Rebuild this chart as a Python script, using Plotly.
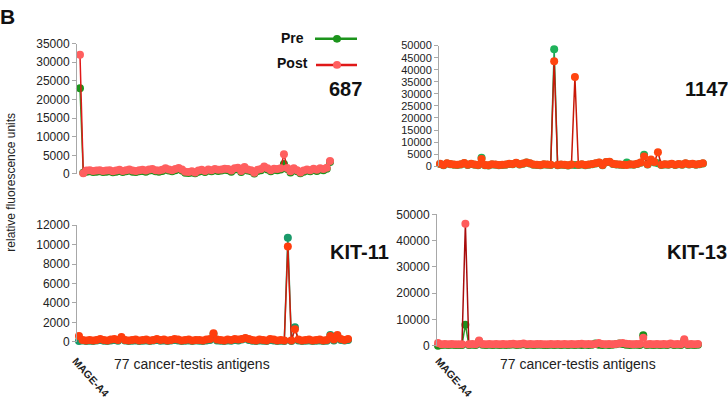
import plotly.graph_objects as go

W, H = 728, 401

antigen_index = list(range(77))

pre_687 = [23000, 300, 600, 700, 550, 600, 700, 550, 600, 700, 450, 600, 800, 550, 700, 900, 600, 550, 700, 800,
           600, 900, 1000, 700, 600, 800, 1200, 900, 700, 1000, 1300, 900, 300, 250, 400, 200, 600, 800, 500, 900,
           700, 1000, 800, 900, 1100, 1000, 600, 1200, 1400, 500, 1600, 900, 700, 100, 800, 1000, 1700, 1200, 700, 1100,
           1000, 1200, 2700, 1300, 400, 1200, 700, 200, 600, 900, 700, 1100, 800, 1200, 1000, 1400, 3200]
post_687 = [32000, 200, 900, 1000, 800, 900, 1000, 800, 900, 1000, 700, 900, 1100, 800, 1000, 1200, 900, 800, 1000, 1100,
            900, 1200, 1300, 1000, 900, 1100, 1500, 1200, 1000, 1300, 1600, 1200, 600, 500, 700, 400, 900, 1100, 800, 1200,
            1000, 1300, 1100, 1200, 1400, 1300, 900, 1500, 1700, 800, 1900, 1200, 1000, 300, 1100, 1300, 2000, 1500, 1000, 1400,
            1300, 1500, 5300, 1600, 700, 1500, 1000, 400, 900, 1200, 1000, 1400, 1100, 1500, 1300, 1700, 3500]

pre_1147 = [900, 400, 1100, 800, 600, 500, 700, 1200, 500, 900, 600, 400, 3500, 400, 300, 700, 600, 400, 500, 600,
            900, 800, 1300, 700, 1000, 1500, 1100, 600, 500, 400, 700, 600, 500, 48500, 400, 600, 500, 300, 600, 500,
            500, 700, 400, 600, 800, 1100, 1400, 400, 1700, 1800, 900, 700, 600, 500, 1500, 700, 600, 900, 1400, 4800,
            700, 2000, 1500, 1200, 500, 700, 600, 900, 500, 800, 600, 1100, 700, 900, 600, 800, 1100]
post_1147 = [1000, 500, 1200, 900, 700, 600, 800, 1300, 600, 1000, 700, 500, 3000, 500, 400, 800, 700, 500, 600, 700,
             1000, 900, 1400, 800, 1100, 1600, 1200, 700, 600, 500, 800, 700, 600, 43500, 500, 700, 600, 400, 700, 37000,
             600, 800, 500, 700, 900, 1200, 1500, 500, 1800, 1900, 1000, 800, 700, 600, 500, 800, 700, 1000, 1500, 4000,
             800, 2800, 1800, 5800, 600, 800, 700, 1000, 600, 900, 700, 1200, 800, 1000, 700, 900, 1200]

pre_kit11 = [100, 150, 100, 120, 100, 150, 200, 120, 100, 150, 200, 120, 400, 150, 100, 120, 150, 100, 120, 150,
             100, 150, 200, 120, 150, 100, 150, 200, 150, 100, 120, 150, 100, 150, 120, 100, 150, 200, 800, 150,
             120, 100, 150, 120, 200, 150, 250, 350, 200, 120, 100, 150, 120, 100, 200, 150, 100, 120, 100, 10700,
             100, 1500, 150, 100, 120, 150, 100, 120, 150, 100, 120, 700, 150, 600, 200, 150, 200]
post_kit11 = [600, 200, 150, 200, 150, 200, 300, 200, 150, 250, 300, 200, 500, 200, 150, 200, 250, 150, 200, 250,
              150, 200, 300, 200, 250, 150, 200, 300, 250, 150, 200, 250, 150, 200, 200, 150, 250, 300, 900, 250,
              200, 150, 250, 200, 300, 250, 300, 400, 300, 200, 150, 250, 200, 150, 300, 250, 150, 200, 150, 9800,
              150, 1300, 250, 150, 200, 250, 150, 200, 250, 150, 200, 600, 250, 700, 300, 200, 300]

pre_kit13 = [0, 300, 400, 300, 350, 300, 300, 300, 8000, 300, 350, 300, 1700, 400, 300, 350, 300, 400, 300, 350,
             300, 400, 500, 300, 350, 600, 300, 350, 300, 400, 350, 300, 300, 350, 300, 400, 300, 350, 300, 350,
             300, 400, 300, 350, 300, 350, 900, 400, 300, 350, 300, 400, 600, 900, 700, 400, 300, 350, 400, 300,
             4000, 300, 350, 300, 400, 300, 350, 300, 600, 300, 350, 300, 2000, 300, 350, 300, 400]
post_kit13 = [1000, 600, 700, 600, 650, 600, 600, 600, 46500, 600, 650, 600, 2000, 700, 600, 650, 600, 700, 600, 650,
              600, 700, 800, 600, 650, 900, 600, 650, 600, 700, 650, 600, 600, 650, 600, 700, 600, 650, 600, 650,
              600, 700, 800, 600, 650, 600, 650, 1000, 700, 600, 650, 600, 700, 900, 1000, 800, 700, 600, 650, 700,
              3000, 600, 650, 600, 700, 600, 650, 600, 900, 600, 650, 600, 2500, 600, 650, 600, 700]

y_ticks_687 = [0, 5000, 10000, 15000, 20000, 25000, 30000, 35000]
y_ticks_1147 = [0, 5000, 10000, 15000, 20000, 25000, 30000, 35000, 40000, 45000, 50000]
y_ticks_kit11 = [0, 2000, 4000, 6000, 8000, 10000, 12000]
y_ticks_kit13 = [0, 10000, 20000, 30000, 40000, 50000]

panel_names = ["687", "1147", "KIT-11", "KIT-13"]
x_title = "77 cancer-testis antigens"
first_antigen = "MAGE-A4"
y_title = "relative fluorescence units"


def px_x(p):
    return p / W


def py_y(p):
    return 1 - p / H


FONT = "Liberation Sans, Arial, sans-serif"

panels = [
    dict(pre=pre_687, post=post_687, xd=(77, 333), yd=(38, 173), xr=[-0.91, 76.91], yr=[0, 35000], ticks=y_ticks_687,
         tf=12, pre_m="#1c941c", pre_l="#2a9a2a", post_m="#ff5f5f", post_l="#e01818"),
    dict(pre=pre_1147, post=post_1147, xd=(439, 706), yd=(40, 165), xr=[-0.3, 76.9], yr=[0, 50000], ticks=y_ticks_1147,
         tf=11, pre_m="#1fb25a", pre_l="#1fa050", post_m="#ff4510", post_l="#c81808"),
    dict(pre=pre_kit11, post=post_kit11, xd=(77, 350), yd=(226, 347), xr=[-0.56, 76.56], yr=[0, 12000], ticks=y_ticks_kit11,
         tf=12, pre_m="#1a9a6a", pre_l="#1a9a6a", post_m="#ff3d0d", post_l="#d41a08"),
    dict(pre=pre_kit13, post=post_kit13, xd=(437, 700), yd=(215, 351), xr=[-0.3, 76.6], yr=[0, 50000], ticks=y_ticks_kit13,
         tf=12, pre_m="#1c901c", pre_l="#2a9a2a", post_m="#ff5a5a", post_l="#a80c0c"),
]

fig = go.Figure()
layout = dict(
    width=W, height=H, margin=dict(l=0, r=0, t=0, b=0),
    paper_bgcolor="white", plot_bgcolor="white", showlegend=False,
    font=dict(family=FONT, color="#222222"),
)

for i, p in enumerate(panels):
    n = "" if i == 0 else str(i + 1)
    xa, ya = "x" + n, "y" + n
    fig.add_trace(go.Scatter(
        x=antigen_index, y=p["pre"], xaxis=xa, yaxis=ya, mode="lines+markers", cliponaxis=False,
        line=dict(color=p["pre_l"], width=1.5), marker=dict(color=p["pre_m"], size=8), name="Pre"))
    fig.add_trace(go.Scatter(
        x=antigen_index, y=p["post"], xaxis=xa, yaxis=ya, mode="lines+markers", cliponaxis=False,
        line=dict(color=p["post_l"], width=1.5), marker=dict(color=p["post_m"], size=8), name="Post"))
    layout["xaxis" + n] = dict(domain=[px_x(p["xd"][0]), px_x(p["xd"][1])], range=p["xr"], anchor=ya,
                               showgrid=False, zeroline=False, showline=False, showticklabels=False, ticks="")
    layout["yaxis" + n] = dict(domain=[py_y(p["yd"][1]), py_y(p["yd"][0])], range=p["yr"], anchor=xa,
                               tickvals=p["ticks"], tickformat="d", showgrid=False, zeroline=False,
                               showline=True, linecolor="#a8a8a8", linewidth=1, ticks="outside", ticklen=4,
                               tickcolor="#a8a8a8", tickfont=dict(size=p["tf"], color="#222222", family=FONT))

fig.update_layout(**layout)

annotations = []
for name, (cx, cy) in zip(panel_names, [(345, 85), (706, 85), (359, 254), (697, 254)]):
    annotations.append(dict(text="<b>%s</b>" % name, x=px_x(cx), y=py_y(cy), xref="paper", yref="paper",
                            showarrow=False, xanchor="center", yanchor="middle",
                            font=dict(size=20, color="#111111", family=FONT)))
annotations.append(dict(text="<b>B</b>", x=px_x(7), y=py_y(10), xref="paper", yref="paper", showarrow=False,
                        xanchor="center", yanchor="middle", font=dict(size=21, color="#111111", family=FONT)))
annotations.append(dict(text="<b>Pre</b>", x=px_x(306), y=py_y(32), xref="paper", yref="paper", showarrow=False,
                        xanchor="right", yanchor="middle", font=dict(size=14, color="#111111", family=FONT)))
annotations.append(dict(text="<b>Post</b>", x=px_x(310), y=py_y(58), xref="paper", yref="paper", showarrow=False,
                        xanchor="right", yanchor="middle", font=dict(size=14, color="#111111", family=FONT)))
for cx in (192, 578):
    annotations.append(dict(text=x_title, x=px_x(cx), y=py_y(370), xref="paper", yref="paper", showarrow=False,
                            xanchor="center", yanchor="middle", font=dict(size=14, color="#222222", family=FONT)))
for cx in (91, 454):
    annotations.append(dict(text="<b>%s</b>" % first_antigen, x=px_x(cx), y=py_y(383), xref="paper", yref="paper",
                            showarrow=False, textangle=48, xanchor="center", yanchor="middle",
                            font=dict(size=10.5, color="#222222", family=FONT)))
annotations.append(dict(text=y_title, x=px_x(11), y=py_y(182), xref="paper", yref="paper", showarrow=False,
                        textangle=-90, xanchor="center", yanchor="middle",
                        font=dict(size=12, color="#222222", family=FONT)))

shapes = [
    dict(type="line", xref="paper", yref="paper", x0=px_x(315), x1=px_x(357), y0=py_y(33), y1=py_y(33),
         line=dict(color="#1c941c", width=2.5)),
    dict(type="circle", xref="paper", yref="paper", x0=px_x(333), x1=px_x(341), y0=py_y(37), y1=py_y(29),
         fillcolor="#1c941c", line=dict(color="#1c941c", width=0)),
    dict(type="line", xref="paper", yref="paper", x0=px_x(316), x1=px_x(357), y0=py_y(60), y1=py_y(60),
         line=dict(color="#e01818", width=2.5)),
    dict(type="circle", xref="paper", yref="paper", x0=px_x(333), x1=px_x(341), y0=py_y(64), y1=py_y(56),
         fillcolor="#ff5f5f", line=dict(color="#ff5f5f", width=0)),
]
fig.update_layout(annotations=annotations, shapes=shapes)

fig.write_html("out.html", config={"displayModeBar": False},
               post_script="document.body.style.margin='0';document.body.style.overflow='hidden';")
